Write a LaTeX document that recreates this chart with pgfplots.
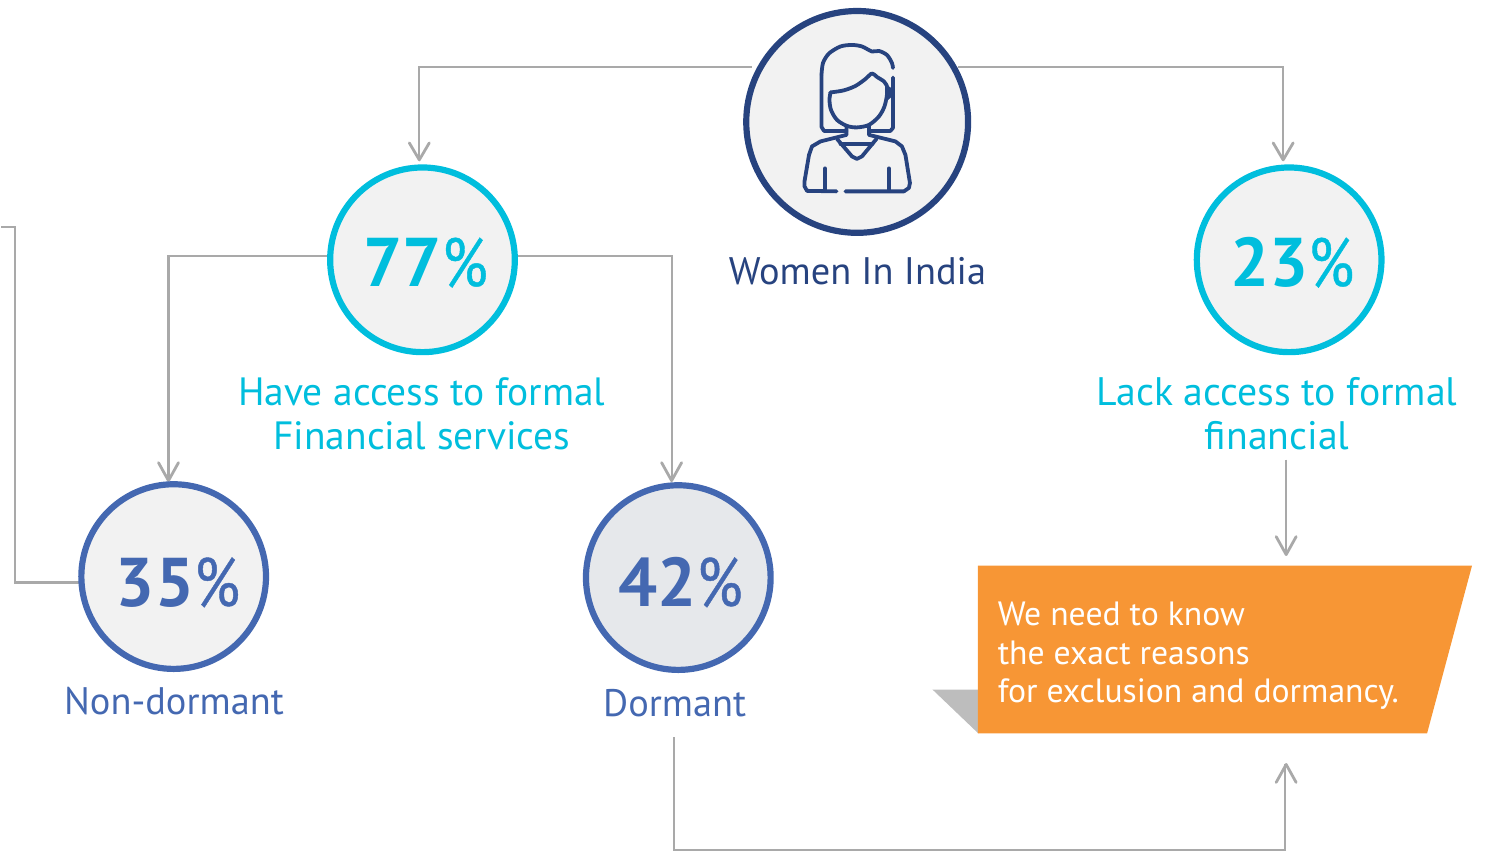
\documentclass[border=0pt]{standalone}
\usepackage{fontspec}
\setmainfont{PT Sans}
\newfontfamily\pctsign[FakeStretch=0.86,FakeBold=0.6]{PT Sans}
\usepackage{pgfplots}
\pgfplotsset{compat=1.18}
\definecolor{navy}{HTML}{27437F}
\definecolor{cyn}{HTML}{00BEDD}
\definecolor{blu}{HTML}{4468B1}
\definecolor{org}{HTML}{F79635}
\definecolor{conn}{HTML}{A9A9A9}
\definecolor{shade}{HTML}{BDBDBD}
\definecolor{disc}{HTML}{F2F2F2}
\definecolor{discb}{HTML}{E6E8EB}
% one pixel of the reference = 0.5pt
\newcommand{\lab}[5][19.2]{\node[anchor=base,text=#4,font=\fontsize{#1}{22}\selectfont] at (axis cs:#2,#3) {#5};}
\newcommand{\pct}[4]{\node[anchor=base,text=#3,font=\fontsize{34.5}{40}\selectfont] at (axis cs:#1,#2) {\textbf{#4}{\pctsign\%}};}
\newcommand{\note}[3]{\node[anchor=base west,inner sep=0pt,text=white,font=\fontsize{16.85}{20}\selectfont] at (axis cs:#1,#2) {#3};}
\begin{document}
\begin{tikzpicture}
\begin{axis}[scale only axis, width=743pt, height=425.5pt,
  xmin=0, xmax=1486, ymin=0, ymax=851, y dir=reverse, hide axis, clip=false, clip mode=individual,
  conn/.style={no marks, draw=conn, line width=1.1pt, line join=miter},
  head/.style={no marks, draw=conn, line width=1.4pt, line join=round, line cap=round},
  icon/.style={no marks, draw=navy, line width=1.9pt, line cap=round, line join=round},
  curve/.style={icon, smooth, tension=0.5},
  disc/.style n args={3}{only marks, mark=*, mark size=#1pt,
    mark options={draw=#2, fill=#3, line width=3.1pt}}]
\path (axis cs:0,0) rectangle (axis cs:1486,851);

% connectors
\addplot[conn] coordinates {(751,67) (418.5,67) (418.5,160)};
\addplot[head] coordinates {(408.5,143) (418.5,160) (428.5,143)};
\addplot[conn] coordinates {(958,67) (1283,67) (1283,160)};
\addplot[head] coordinates {(1273,143) (1283,160) (1293,143)};
\addplot[conn] coordinates {(328,256) (167.5,256) (167.5,481)};
\addplot[head] coordinates {(157.5,463) (167.5,481) (177.5,463)};
\addplot[conn] coordinates {(516,256) (671,256) (671,481)};
\addplot[head] coordinates {(661,463) (671,481) (681,463)};
\addplot[conn] coordinates {(0,227) (14,227) (14,583) (79,583)};
\addplot[conn] coordinates {(1286,460) (1286,555)};
\addplot[head] coordinates {(1276,537) (1286,555) (1296,537)};
\addplot[conn] coordinates {(673,738) (673,850.4) (1285,850.4) (1285,765)};
\addplot[head] coordinates {(1276,783) (1286,765) (1296,783)};

% callout
\addplot[fill=shade, draw=none] coordinates {(932,690) (978,690) (978,734)} -- cycle;
\addplot[fill=org, draw=none] coordinates {(977.5,566) (1472,566) (1427,734) (977.5,734)} -- cycle;

% discs
\addplot[disc={55.5}{navy}{disc}] coordinates {(856.7,122)};
\addplot[disc={46.2}{cyn}{disc}] coordinates {(421.7,260)};
\addplot[disc={46.2}{cyn}{disc}] coordinates {(1289,260)};
\addplot[disc={46.2}{blu}{disc}] coordinates {(172.7,577)};
\addplot[disc={46.2}{blu}{discb}] coordinates {(677.7,578)};

% woman icon
\addplot[curve] coordinates {(892.5,68) (891.5,63) (886.5,55) (878.5,51) (871.5,51.5) (861.5,46.5) (851.5,45) (840,46.5) (828.5,53.5) (822.5,63) (821,75)};
\addplot[icon] coordinates {(821,75) (821,127) (823.5,131) (846,131)};
\addplot[icon] coordinates {(892.5,77.5) (892.5,128) (890,131) (868.5,131)};
\addplot[curve] coordinates {(830,92.5) (843,90.5) (855,86) (865,79) (871.5,73.5) (876.5,77) (883.5,81.5) (886.5,86)};
\addplot[curve] coordinates {(830,92.5) (829,100) (830.5,110) (836.5,120) (846.5,126) (856.5,127.5) (868.5,125) (878.5,116.5) (884,106.5) (886.5,95) (886.5,86)};
\addplot[icon] coordinates {(886.5,87.5) (890.5,90) (890.5,95) (886.5,98.5)};
\addplot[icon] coordinates {(846,127) (846,135) (820,141.5) (811.5,146.5) (808.5,155) (804,181.5) (804,186.5) (806.5,191) (836,191.5)};
\addplot[icon] coordinates {(868.5,126) (868.5,135) (895,141.5) (901.5,146.5) (905,155) (909.5,183) (908.5,188) (903.5,191.5) (845,191.5)};
\addplot[icon] coordinates {(836.5,139) (851.5,156.5) (856.5,159) (861.5,156.5) (876,139)};
\addplot[icon] coordinates {(840,144) (872,144)};
\addplot[icon] coordinates {(824.5,168.5) (824.5,190.5)};
\addplot[icon] coordinates {(888.5,168.5) (888.5,190.5)};

% text
\pct{425}{287}{cyn}{77}
\pct{1292}{287}{cyn}{23}
\pct{177}{607}{blu}{35}
\pct{680}{607}{blu}{42}
\lab[19.2]{857}{285}{navy}{Women In India}
\lab[19.75]{421}{406}{cyn}{Have access to formal}
\lab[19.75]{421}{450}{cyn}{Financial services}
\lab[19.9]{1277}{406}{cyn}{Lack access to formal}
\lab[19.9]{1277}{450}{cyn}{financial}
\lab[19.2]{173}{715}{blu}{Non-dormant}
\lab[19.2]{674}{717}{blu}{Dormant}
\note{997}{626}{We need to know}
\note{997}{665}{the exact reasons}
\note{997}{703}{for exclusion and dormancy.}
\end{axis}
\end{tikzpicture}
\end{document}
